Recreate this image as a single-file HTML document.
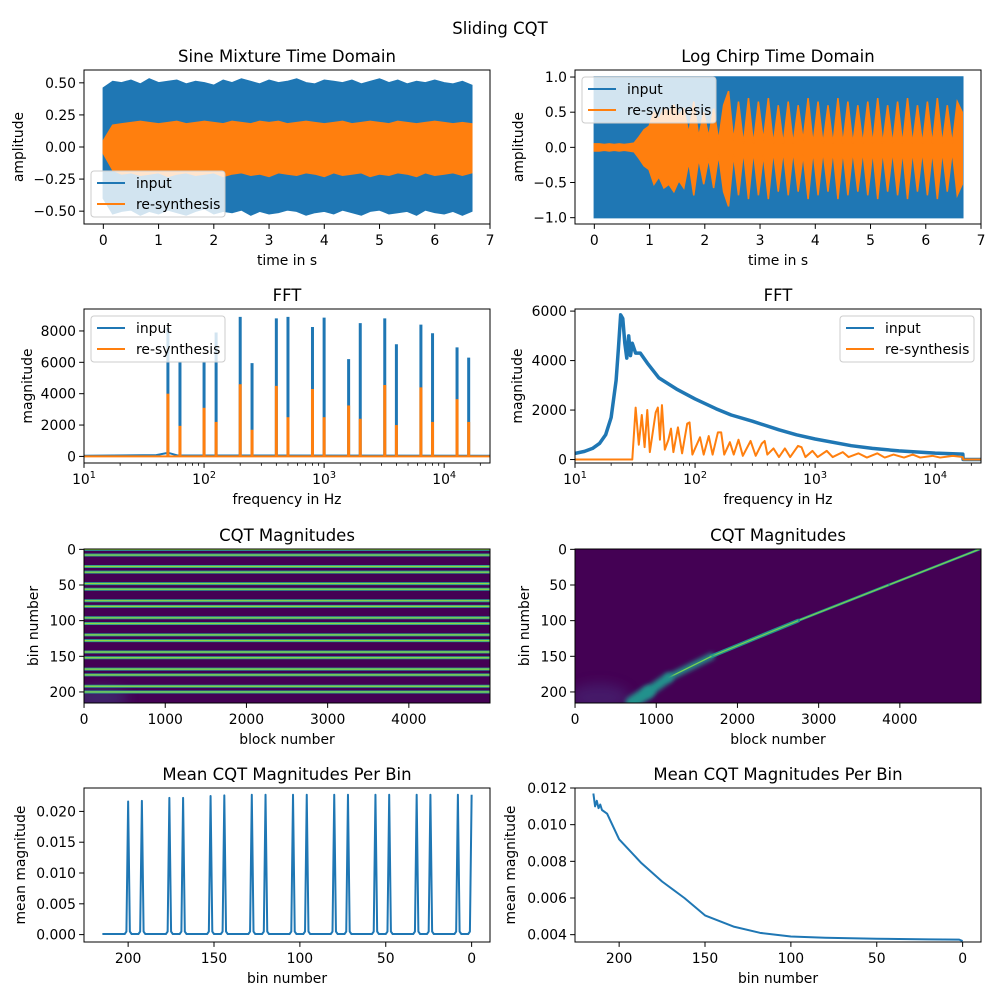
<!DOCTYPE html>
<html><head><meta charset="utf-8"><title>Sliding CQT</title>
<style>
html,body{margin:0;padding:0;background:#fff;}
svg{display:block;font-family:"DejaVu Sans","Liberation Sans",sans-serif;}
</style></head>
<body>
<svg id="fig" width="1000" height="1000" viewBox="0 0 1000 1000" xmlns="http://www.w3.org/2000/svg">
<defs>
<filter id="blur2" filterUnits="userSpaceOnUse" x="0" y="0" width="1000" height="1000"><feGaussianBlur stdDeviation="2.5"/></filter>
<filter id="blur5" filterUnits="userSpaceOnUse" x="0" y="0" width="1000" height="1000"><feGaussianBlur stdDeviation="6"/></filter>
</defs>
<text x="500" y="34" text-anchor="middle" font-size="16.5">Sliding CQT</text>
</svg>
<script>
// ---------------- data ----------------
const sineTimes = [0,0.17,0.33,0.5,0.67,0.83,1,1.17,1.33,1.5,1.67,1.83,2,2.17,2.33,2.5,2.67,2.83,3,3.17,3.33,3.5,3.67,3.83,4,4.17,4.33,4.5,4.67,4.83,5,5.17,5.33,5.5,5.67,5.83,6,6.17,6.33,6.5,6.67];
const sineInUpper = [0.46,0.51,0.50,0.52,0.49,0.53,0.50,0.51,0.52,0.49,0.51,0.50,0.48,0.52,0.50,0.53,0.51,0.49,0.52,0.50,0.51,0.53,0.50,0.49,0.52,0.51,0.50,0.52,0.49,0.51,0.53,0.50,0.52,0.49,0.51,0.50,0.52,0.50,0.49,0.51,0.48];
const sineInLower = [-0.40,-0.52,-0.50,-0.49,-0.53,-0.50,-0.52,-0.49,-0.51,-0.53,-0.50,-0.48,-0.52,-0.50,-0.51,-0.49,-0.53,-0.50,-0.52,-0.51,-0.49,-0.50,-0.53,-0.51,-0.50,-0.52,-0.49,-0.51,-0.53,-0.50,-0.49,-0.52,-0.51,-0.50,-0.53,-0.49,-0.51,-0.52,-0.50,-0.53,-0.50];
const sineOutUpper = [0.05,0.17,0.18,0.19,0.20,0.19,0.18,0.19,0.20,0.18,0.19,0.20,0.19,0.18,0.20,0.19,0.18,0.20,0.19,0.20,0.18,0.19,0.20,0.19,0.18,0.19,0.20,0.18,0.19,0.20,0.19,0.18,0.20,0.19,0.18,0.19,0.20,0.19,0.18,0.19,0.18];
const sineOutLower = [-0.05,-0.18,-0.21,-0.20,-0.22,-0.21,-0.20,-0.23,-0.21,-0.20,-0.22,-0.21,-0.20,-0.23,-0.21,-0.20,-0.22,-0.21,-0.23,-0.20,-0.21,-0.22,-0.20,-0.21,-0.23,-0.20,-0.22,-0.21,-0.20,-0.23,-0.21,-0.22,-0.20,-0.21,-0.23,-0.20,-0.22,-0.21,-0.20,-0.22,-0.20];
const chirpInAmp = [1.0];
const chirpDuration = [6.67];
const chirpOutAmp = [0.05,0.05,0.04,0.05,0.04,0.05,0.04,0.05,0.06,0.15,0.25,0.3,0.5,0.4,0.55,0.5,0.6,0.45,0.55,0.2,0.65,0.15,0.5,0.15,0.55,0.1,0.6,0.8,0.1,0.65,0.05,0.7,0.05,0.65,0.1,0.7,0.05,0.6,0.05,0.65,0.05,0.6,0.1,0.7,0.05,0.65,0.05,0.6,0.05,0.7,0.05,0.65,0.05,0.6,0.05,0.65,0.05,0.7,0.05,0.6,0.05,0.65,0.05,0.7,0.05,0.6,0.05,0.65,0.05,0.7,0.05,0.6,0.05,0.65,0.5];
const chirpOutStep = 0.09;

const sinePeakFreqs = [50,63,100,126,200,251,400,500,800,1000,1600,2000,3200,4000,6400,8000,12800,16000];
const sinePeakIn = [8200,6000,6000,7900,8900,5950,8800,8900,8250,8850,6200,8500,8800,7150,8400,7850,6950,6300];
const sinePeakOut = [4000,1950,3100,2200,4600,1700,4500,2500,4300,2500,3250,2400,4550,2000,4400,2200,3650,2200];

const chirpFftFreqs = [10,12,14,16,18,20,22,23,24,25,26,27,28,29,30,32,35,40,50,70,100,150,200,300,500,700,1000,2000,3000,5000,10000,17000,17100,24000];
const chirpFftIn = [250,330,450,650,1000,1700,3200,4500,5850,5700,4700,4100,5000,4200,4700,4300,4300,3900,3300,2850,2450,2050,1800,1550,1200,1000,830,560,450,350,260,220,0,0];
const chirpOutFreqs = [10,30,32,34,36,38,40,42,47,49,51,53,56,60,63,66,72,78,86,90,95,110,118,130,140,155,165,175,195,210,230,250,290,320,360,380,400,450,500,560,620,720,770,830,950,1050,1250,1400,1700,1900,2300,2700,3300,3800,4500,5500,6500,7500,9500,11000,14000,17000,17100,24000];
const chirpOutVals = [0,0,2100,600,1800,500,2000,300,1900,2100,800,2200,400,800,1250,300,1300,250,1450,1500,200,900,200,950,200,1100,1100,200,700,200,800,150,750,150,650,750,200,450,100,450,100,550,500,100,350,100,350,100,300,100,250,80,250,80,200,80,200,80,150,80,150,100,0,0];

const cqtLineBins = [0,8,24,32,48,56,72,80,96,104,120,128,144,152,168,176,192,200];
const chirpRidgeBins = [0,50,100,150,180,200,215];
const chirpRidgeBlocks = [4978,3860,2747,1680,1150,900,700];

const meanPeakBins = [200,192,176,168,152,144,128,120,104,96,80,72,56,48,32,24,8,0];
const meanPeakVals = [0.0216,0.0217,0.0222,0.0222,0.0225,0.0226,0.0227,0.0227,0.0227,0.0227,0.0227,0.0227,0.0227,0.0227,0.0227,0.0227,0.0227,0.0227];
const meanBase = [0.0001];
const chirpMeanBins = [215,214,213,212,211,210,207,200,187,175,162,150,133,118,100,80,50,20,2,0];
const chirpMeanVals = [0.0117,0.0110,0.0113,0.0109,0.0111,0.0108,0.0106,0.0092,0.0079,0.0069,0.0060,0.00505,0.00443,0.0041,0.0039,0.00383,0.00378,0.00374,0.00373,0.00365];

const xTimeTicks = [0,1,2,3,4,5,6,7];
const logTicks = [1,2,3,4];
const sineYTicks = [0.5,0.25,0,-0.25,-0.5];
const sineYLabels = ["0.50","0.25","0.00","\u22120.25","\u22120.50"];
const chirpYTicks = [1,0.5,0,-0.5,-1];
const chirpYLabels = ["1.0","0.5","0.0","\u22120.5","\u22121.0"];
const fftLYTicks = [0,2000,4000,6000,8000];
const fftRYTicks = [0,2000,4000,6000];
const cqtXTicks = [0,1000,2000,3000,4000];
const cqtYTicks = [0,50,100,150,200];
const binTicks = [200,150,100,50,0];
const meanLYTicks = [0,0.005,0.01,0.015,0.02];
const meanLYLabels = ["0.000","0.005","0.010","0.015","0.020"];
const meanRYTicks = [0.004,0.006,0.008,0.01,0.012];
const meanRYLabels = ["0.004","0.006","0.008","0.010","0.012"];

const BLUE = "#1f77b4", ORANGE = "#ff7f0e";
const NS = "http://www.w3.org/2000/svg";
const fig = document.getElementById("fig");
let clipId = 0;

function el(tag, attrs, parent) {
  const e = document.createElementNS(NS, tag);
  for (const k in attrs) e.setAttribute(k, attrs[k]);
  if (parent) parent.appendChild(e);
  return e;
}

function makeAxes(c) {
  const g = el("g", {}, fig);
  
  
  const lg = v => Math.log10(v);
  const sx = c.xlog ? v => c.x0 + (lg(v) - lg(c.xlim[0])) / (lg(c.xlim[1]) - lg(c.xlim[0])) * c.w
                    : v => c.x0 + (v - c.xlim[0]) / (c.xlim[1] - c.xlim[0]) * c.w;
  const sy = v => c.y0 + (c.ylim[1] - v) / (c.ylim[1] - c.ylim[0]) * c.h;
  clipId++;
  const cp = el("clipPath", {id: "cp" + clipId}, g);
  el("rect", {x: c.x0, y: c.y0, width: c.w, height: c.h}, cp);
  const plot = el("g", {"clip-path": "url(#cp" + clipId + ")"}, g);
  
  
  if (c.bg) el("rect", {x: c.x0, y: c.y0, width: c.w, height: c.h, fill: c.bg}, plot);
  const deco = el("g", {}, g);
  const fr = el("rect", {x: c.x0, y: c.y0, width: c.w, height: c.h, fill: "none", stroke: "#000", "stroke-width": 1}, deco);
  
  
  const yb = c.y0 + c.h;
  c.xticks.forEach((v, i) => {
    const x = c.xlog ? sx(Math.pow(10, v)) : sx(v);
    el("line", {x1: x, x2: x, y1: yb, y2: yb + 4.9, stroke: "#000", "stroke-width": 1}, deco);
    const t = el("text", {x: x, y: yb + 21, "text-anchor": "middle", "font-size": 13.9}, deco);
    
    
    if (c.xlog) {
      t.textContent = "10";
      const s = el("tspan", {dy: -6, "font-size": 9.7}, t);
      s.textContent = String(v);
    } else {
      t.textContent = c.xlabels ? c.xlabels[i] : String(v);
    }
  });
  if (c.xlog) {
    for (let d = 1; d <= 4; d++) for (let m = 2; m <= 9; m++) {
      const f = m * Math.pow(10, d);
      if (f > c.xlim[1]) continue;
      const x = sx(f);
      el("line", {x1: x, x2: x, y1: yb, y2: yb + 2.8, stroke: "#000", "stroke-width": 0.8}, deco);
    }
  }
  c.yticks.forEach((v, i) => {
    const y = sy(v);
    el("line", {x1: c.x0, x2: c.x0 - 4.9, y1: y, y2: y, stroke: "#000", "stroke-width": 1}, deco);
    const t = el("text", {x: c.x0 - 8, y: y + 5, "text-anchor": "end", "font-size": 13.9}, deco);
    
    
    t.textContent = c.ylabels ? c.ylabels[i] : String(v);
  });
  const xl = el("text", {x: c.x0 + c.w / 2, y: yb + 41, "text-anchor": "middle", "font-size": 13.9}, deco);
  
  
  xl.textContent = c.xlabel;
  const ycx = c.ylabelX, ycy = c.y0 + c.h / 2;
  const yl = el("text", {x: ycx, y: ycy + 5, "text-anchor": "middle", "font-size": 13.9, transform: "rotate(-90 " + ycx + " " + ycy + ")"}, deco);
  
  
  yl.textContent = c.ylabel;
  const tt = el("text", {x: c.x0 + c.w / 2, y: c.y0 - 8, "text-anchor": "middle", "font-size": 16.5}, deco);
  
  
  tt.textContent = c.title;
  return {g, plot, deco, sx, sy, c};
}

function legend(ax, x, y) {
  const lg = el("g", {}, ax.g);
  
  
  el("rect", {x: x, y: y, width: 134, height: 46, rx: 3, fill: "rgba(255,255,255,0.8)", stroke: "#cccccc", "stroke-width": 1}, lg);
  [["input", BLUE], ["re-synthesis", ORANGE]].forEach((p, i) => {
    const yy = y + 12 + i * 21;
    const ln = el("line", {x1: x + 6, x2: x + 34, y1: yy, y2: yy, stroke: p[1], "stroke-width": 2}, lg);
    
    
    const t = el("text", {x: x + 45, y: yy + 5, "font-size": 13.9}, lg);
    
    
    t.textContent = p[0];
  });
}

function band(ax, xs, up, lo, color, name) {
  let pts = [];
  xs.forEach((t, i) => pts.push(ax.sx(t) + "," + ax.sy(up[i])));
  for (let i = xs.length - 1; i >= 0; i--) pts.push(ax.sx(xs[i]) + "," + ax.sy(lo[i]));
  const p = el("polygon", {points: pts.join(" "), fill: color, stroke: color, "stroke-width": 1.5, "stroke-linejoin": "miter"}, ax.plot);
  
  
}

function line(ax, xs, ys, color, w, name) {
  const pts = xs.map((x, i) => ax.sx(x) + "," + ax.sy(ys[i])).join(" ");
  const p = el("polyline", {points: pts, fill: "none", stroke: color, "stroke-width": w, "stroke-linejoin": "round"}, ax.plot);
  
  
  return p;
}

const L = 84, R = 575, W = 406, H = 154;
const rows = [70, 309, 549, 788];

// ---- Row 1 left
const a1 = makeAxes({name: "sine-time-axes", x0: L, y0: rows[0], w: W, h: H, xlim: [-0.35, 7], ylim: [-0.6, 0.6],
  xticks: xTimeTicks, yticks: sineYTicks, ylabels: sineYLabels, xlabel: "time in s", ylabel: "amplitude", ylabelX: 18, title: "Sine Mixture Time Domain"});
band(a1, sineTimes, sineInUpper, sineInLower, BLUE, "sine-input-series");
band(a1, sineTimes, sineOutUpper, sineOutLower, ORANGE, "sine-resynthesis-series");
legend(a1, 91, 171);

// ---- Row 1 right
const a2 = makeAxes({name: "chirp-time-axes", x0: R, y0: rows[0], w: W, h: H, xlim: [-0.35, 7], ylim: [-1.09, 1.1],
  xticks: xTimeTicks, yticks: chirpYTicks, ylabels: chirpYLabels, xlabel: "time in s", ylabel: "amplitude", ylabelX: 518, title: "Log Chirp Time Domain"});
band(a2, [0, chirpDuration[0]], [chirpInAmp[0], chirpInAmp[0]], [-chirpInAmp[0], -chirpInAmp[0]], BLUE, "chirp-input-series");
{
  const ts = chirpOutAmp.map((a, i) => Math.min(i * chirpOutStep, chirpDuration[0]));
  band(a2, ts, chirpOutAmp, chirpOutAmp.map(a => -a * 1.05), ORANGE, "chirp-resynthesis-series");
}
legend(a2, 582, 77);

// ---- Row 2 left
const fmax = Math.pow(10, 4.3817);
const a3 = makeAxes({name: "sine-fft-axes", x0: L, y0: rows[1], w: W, h: H, xlim: [10, fmax], xlog: true, ylim: [-420, 9400],
  xticks: logTicks, yticks: fftLYTicks, xlabel: "frequency in Hz", ylabel: "magnitude", ylabelX: 27, title: "FFT"});
line(a3, [10, 40, 48, 52, 60, fmax], [40, 80, 200, 200, 60, 40], BLUE, 2, "sine-fft-input-baseline");
sinePeakFreqs.forEach((f, i) => {
  const x = a3.sx(f);
  const b = el("line", {x1: x, x2: x, y1: a3.sy(0), y2: a3.sy(sinePeakIn[i]), stroke: BLUE, "stroke-width": 3}, a3.plot);
  
  
});
line(a3, [10, fmax], [0, 0], ORANGE, 2, "sine-fft-resynthesis-baseline");
sinePeakFreqs.forEach((f, i) => {
  const x = a3.sx(f);
  const b = el("line", {x1: x, x2: x, y1: a3.sy(0), y2: a3.sy(sinePeakOut[i]), stroke: ORANGE, "stroke-width": 3}, a3.plot);
  
  
});
legend(a3, 91, 316);

// ---- Row 2 right
const a4 = makeAxes({name: "chirp-fft-axes", x0: R, y0: rows[1], w: W, h: H, xlim: [10, fmax], xlog: true, ylim: [-140, 6085],
  xticks: logTicks, yticks: fftRYTicks, xlabel: "frequency in Hz", ylabel: "magnitude", ylabelX: 517, title: "FFT"});
line(a4, chirpFftFreqs, chirpFftIn, BLUE, 3.5, "chirp-fft-input-series");
line(a4, chirpOutFreqs, chirpOutVals, ORANGE, 2, "chirp-fft-resynthesis-series");
legend(a4, 840, 316);

// ---- Row 3 left
const a5 = makeAxes({name: "sine-cqt-axes", x0: L, y0: rows[2], w: W, h: H, xlim: [-0.5, 4999.5], ylim: [215.5, -0.5], bg: "#440154",
  xticks: cqtXTicks, yticks: cqtYTicks, xlabel: "block number", ylabel: "bin number", ylabelX: 33, title: "CQT Magnitudes"});
{
  const sm = el("ellipse", {cx: a5.sx(200), cy: a5.sy(208), rx: 28, ry: 10, fill: "#3b528b", opacity: 0.45, filter: "url(#blur5)"}, a5.plot);
  
  
}
cqtLineBins.forEach(b => {
  const y = a5.sy(b);
  const o = el("line", {x1: a5.sx(0), x2: a5.sx(5000), y1: y, y2: y, stroke: "#2a9d8f", "stroke-width": 3}, a5.plot);
  
  
  el("line", {x1: a5.sx(0), x2: a5.sx(5000), y1: y, y2: y, stroke: "#8fd744", "stroke-width": 1.2}, a5.plot);
});

// ---- Row 3 right
const a6 = makeAxes({name: "chirp-cqt-axes", x0: R, y0: rows[2], w: W, h: H, xlim: [-0.5, 4999.5], ylim: [215.5, -0.5], bg: "#440154",
  xticks: cqtXTicks, yticks: cqtYTicks, xlabel: "block number", ylabel: "bin number", ylabelX: 524, title: "CQT Magnitudes"});
{
  const sm = el("ellipse", {cx: a6.sx(300), cy: a6.sy(208), rx: 30, ry: 14, fill: "#46327e", opacity: 0.5, filter: "url(#blur5)"}, a6.plot);
  
  
  for (let i = 0; i < chirpRidgeBins.length - 1; i++) {
    const b0 = chirpRidgeBins[i], b1 = chirpRidgeBins[i + 1];
    const wd = 2.5 + Math.pow((b0 + b1) / 430, 4) * 12;
    const s = el("line", {x1: a6.sx(chirpRidgeBlocks[i]), y1: a6.sy(b0), x2: a6.sx(chirpRidgeBlocks[i + 1]), y2: a6.sy(b1),
      stroke: "#21918c", "stroke-width": wd, "stroke-linecap": "round", filter: wd > 4 ? "url(#blur2)" : "none"}, a6.plot);
    
    
    if (b0 < 180) el("line", {x1: a6.sx(chirpRidgeBlocks[i]), y1: a6.sy(b0), x2: a6.sx(chirpRidgeBlocks[i + 1]), y2: a6.sy(b1),
      stroke: "#7ad151", "stroke-width": 1.2}, a6.plot);
  }
}

// ---- Row 4 left
const a7 = makeAxes({name: "sine-mean-axes", x0: L, y0: rows[3], w: W, h: H, xlim: [225.7, -10.7], ylim: [-0.0012, 0.0238],
  xticks: binTicks, yticks: meanLYTicks, ylabels: meanLYLabels, xlabel: "bin number", ylabel: "mean magnitude", ylabelX: 20, title: "Mean CQT Magnitudes Per Bin"});
{
  const bx = [], by = [];
  for (let b = 215; b >= 0; b--) {
    const k = meanPeakBins.indexOf(b);
    let v = meanBase[0];
    if (k >= 0) v = meanPeakVals[k];
    else if (meanPeakBins.indexOf(b + 1) >= 0 || meanPeakBins.indexOf(b - 1) >= 0) v = meanBase[0] * 5;
    bx.push(b); by.push(v);
  }
  line(a7, bx, by, BLUE, 2, "sine-mean-series");
}

// ---- Row 4 right
const a8 = makeAxes({name: "chirp-mean-axes", x0: R, y0: rows[3], w: W, h: H, xlim: [225.7, -10.7], ylim: [0.0036, 0.012],
  xticks: binTicks, yticks: meanRYTicks, ylabels: meanRYLabels, xlabel: "bin number", ylabel: "mean magnitude", ylabelX: 510, title: "Mean CQT Magnitudes Per Bin"});
line(a8, chirpMeanBins, chirpMeanVals, BLUE, 2, "chirp-mean-series");
</script>
</body></html>
